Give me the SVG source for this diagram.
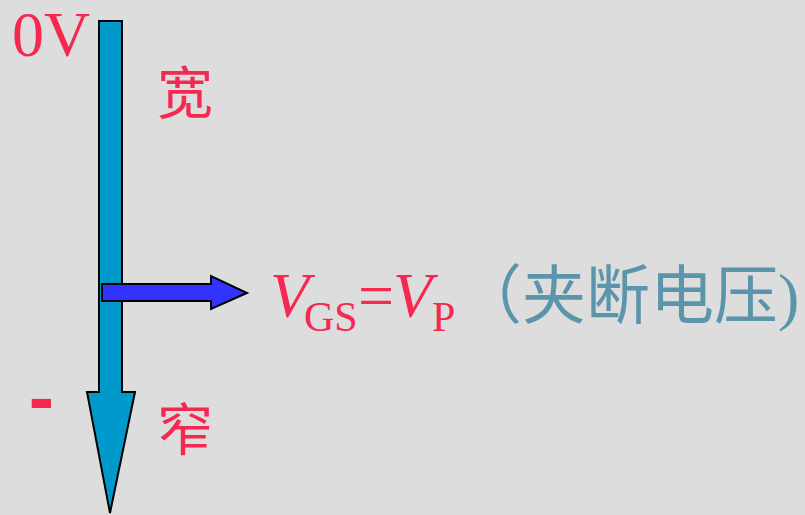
<svg xmlns="http://www.w3.org/2000/svg" width="805" height="515" viewBox="0 0 805 515">
<style>
.red{fill:#F5294F}
.teal{fill:#5A95AB}
.serif{font-family:"Liberation Serif","Noto Sans CJK SC",serif}
.cjk{font-family:"Noto Sans CJK SC",sans-serif}
.arrow{stroke:#000;stroke-width:2;stroke-linejoin:miter}
</style>
<rect width="805" height="515" fill="#DDDDDD"/>
<g id="connectors">
<polygon class="arrow" fill="#0099CC" points="99,21 122,21 122,392 135,392 110,513 87,392 99,392"/>
<polygon class="arrow" fill="#3333FF" points="102,284 211,284 211,276 247,293 211,309 211,301 102,301"/>
</g>
<g id="label-0V"><text class="serif red" x="12" y="56" font-size="64">0V</text></g>
<g id="label-wide"><text class="cjk red" x="157" y="113" font-size="56">宽</text></g>
<g id="label-narrow"><text class="cjk red" x="157" y="450" font-size="56">窄</text></g>
<g id="label-minus"><text class="red" font-family="Liberation Sans,sans-serif" font-weight="bold" x="41.5" y="423" font-size="76" text-anchor="middle">-</text></g>
<g id="label-vgs">
<text class="serif red" font-size="64" y="317"><tspan x="270" font-style="italic">V</tspan><tspan x="304" y="331" font-size="42">GS</tspan><tspan x="358" y="317">=</tspan><tspan x="393" font-style="italic">V</tspan><tspan x="432" y="331" font-size="42">P</tspan></text>
<text class="serif teal" x="458" y="318" font-size="64">（夹断电压)</text>
</g>
</svg>
